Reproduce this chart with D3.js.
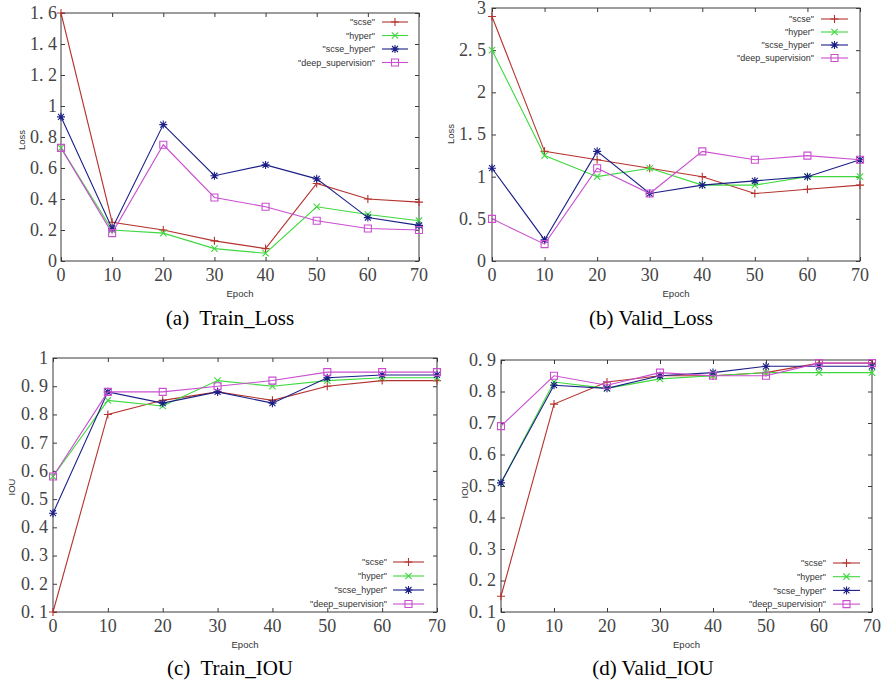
<!DOCTYPE html>
<html>
<head>
<meta charset="utf-8">
<script src="https://cdn.jsdelivr.net/npm/d3@7/dist/d3.min.js"></script>
<style>
  html, body { margin: 0; padding: 0; background: #ffffff; }
  svg { display: block; }
  .ticklab { font-family: 'Liberation Serif', 'Times New Roman', serif; font-size: 18px; fill: #444; white-space: pre; }
  .small { font-family: 'Liberation Sans', Arial, sans-serif; font-size: 9.5px; fill: #333; }
  .leg { font-family: 'Liberation Sans', Arial, sans-serif; font-size: 9px; fill: #333; }
  .cap { font-family: 'Liberation Serif', 'Times New Roman', serif; font-size: 21px; fill: #000; white-space: pre; }
</style>
</head>
<body>
<svg id="chart" width="886" height="687"></svg>
<script>
// ---------------- DATA ----------------
const epochs = [0, 10, 20, 30, 40, 50, 60, 70];
const xTickLabels = ["0", "10", "20", "30", "40", "50", "60", "70"];
const seriesNames = ['"scse"', '"hyper"', '"scse_hyper"', '"deep_supervision"'];

// (a) Train_Loss
const trainLossScse      = [1.60, 0.25, 0.20, 0.13, 0.08, 0.50, 0.40, 0.38];
const trainLossHyper     = [0.73, 0.20, 0.18, 0.08, 0.05, 0.35, 0.30, 0.26];
const trainLossScseHyper = [0.93, 0.21, 0.88, 0.55, 0.62, 0.53, 0.28, 0.23];
const trainLossDeep      = [0.73, 0.18, 0.75, 0.41, 0.35, 0.26, 0.21, 0.20];
const trainLossTicks     = [0, 0.2, 0.4, 0.6, 0.8, 1.0, 1.2, 1.4, 1.6];
const trainLossTickLabels = ["0", "0. 2", "0. 4", "0. 6", "0. 8", "1", "1. 2", "1. 4", "1. 6"];

// (b) Valid_Loss
const validLossScse      = [2.90, 1.30, 1.20, 1.10, 1.00, 0.80, 0.85, 0.90];
const validLossHyper     = [2.50, 1.25, 1.00, 1.10, 0.90, 0.90, 1.00, 1.00];
const validLossScseHyper = [1.10, 0.25, 1.30, 0.80, 0.90, 0.95, 1.00, 1.20];
const validLossDeep      = [0.50, 0.20, 1.10, 0.80, 1.30, 1.20, 1.25, 1.20];
const validLossTicks     = [0, 0.5, 1.0, 1.5, 2.0, 2.5, 3.0];
const validLossTickLabels = ["0", "0. 5", "1", "1. 5", "2", "2. 5", "3"];

// (c) Train_IOU
const trainIouScse      = [0.10, 0.80, 0.85, 0.88, 0.85, 0.90, 0.92, 0.92];
const trainIouHyper     = [0.58, 0.85, 0.83, 0.92, 0.90, 0.92, 0.93, 0.93];
const trainIouScseHyper = [0.45, 0.88, 0.84, 0.88, 0.84, 0.93, 0.94, 0.94];
const trainIouDeep      = [0.58, 0.88, 0.88, 0.90, 0.92, 0.95, 0.95, 0.95];
const trainIouTicks     = [0.1, 0.2, 0.3, 0.4, 0.5, 0.6, 0.7, 0.8, 0.9, 1.0];
const trainIouTickLabels = ["0. 1", "0. 2", "0. 3", "0. 4", "0. 5", "0. 6", "0. 7", "0. 8", "0. 9", "1"];

// (d) Valid_IOU
const validIouScse      = [0.15, 0.76, 0.83, 0.85, 0.85, 0.86, 0.89, 0.89];
const validIouHyper     = [0.51, 0.83, 0.81, 0.84, 0.85, 0.86, 0.86, 0.86];
const validIouScseHyper = [0.51, 0.82, 0.81, 0.85, 0.86, 0.88, 0.88, 0.88];
const validIouDeep      = [0.69, 0.85, 0.82, 0.86, 0.85, 0.85, 0.89, 0.89];
const validIouTicks     = [0.1, 0.2, 0.3, 0.4, 0.5, 0.6, 0.7, 0.8, 0.9];
const validIouTickLabels = ["0. 1", "0. 2", "0. 3", "0. 4", "0. 5", "0. 6", "0. 7", "0. 8", "0. 9"];

const captions = ["(a)  Train_Loss", "(b) Valid_Loss", "(c)  Train_IOU", "(d) Valid_IOU"];
const yTitles = ["Loss", "Loss", "IOU", "IOU"];
const xTitle = "Epoch";

// ---------------- STYLE / LAYOUT ----------------
const colors = ["#b5332e", "#3fd83f", "#1b1f86", "#c94fcf"];
const markers = [
  "M-4,0H4M0,-4V4",                                  // +
  "M-3.2,-3.2L3.2,3.2M-3.2,3.2L3.2,-3.2",            // x
  "M-4,0H4M0,-4V4M-3,-3L3,3M-3,3L3,-3",              // *
  "M-3.5,-3.5H3.5V3.5H-3.5Z"                         // square
];

const panels = [
  { L: 61,  R: 419, T: 13,  B: 261, yDom: [0, 1.6], ticks: trainLossTicks, tickLabels: trainLossTickLabels,
    series: [trainLossScse, trainLossHyper, trainLossScseHyper, trainLossDeep],
    legend: { textRight: 375, lineX1: 382, lineX2: 408, y0: 22, dy: 13.5 },
    yTitle: { x: 22, y: 140 }, xTitleY: 297, tickLabelY: 281, yLabPad: 4,
    caption: { x: 230, y: 325 } },
  { L: 492, R: 860, T: 8,   B: 261, yDom: [0, 3], ticks: validLossTicks, tickLabels: validLossTickLabels,
    series: [validLossScse, validLossHyper, validLossScseHyper, validLossDeep],
    legend: { textRight: 814, lineX1: 821, lineX2: 848, y0: 19, dy: 13 },
    yTitle: { x: 451, y: 134 }, xTitleY: 297, tickLabelY: 281, yLabPad: 6,
    caption: { x: 651, y: 325 } },
  { L: 53,  R: 437, T: 358, B: 612, yDom: [0.1, 1.0], ticks: trainIouTicks, tickLabels: trainIouTickLabels,
    series: [trainIouScse, trainIouHyper, trainIouScseHyper, trainIouDeep],
    legend: { textRight: 387, lineX1: 393, lineX2: 424, y0: 562, dy: 14 },
    yTitle: { x: 12, y: 487 }, xTitleY: 648, tickLabelY: 632, yLabPad: 5,
    caption: { x: 230, y: 675 } },
  { L: 501, R: 872, T: 360, B: 612, yDom: [0.1, 0.9], ticks: validIouTicks, tickLabels: validIouTickLabels,
    series: [validIouScse, validIouHyper, validIouScseHyper, validIouDeep],
    legend: { textRight: 826, lineX1: 833, lineX2: 860, y0: 563, dy: 13.7 },
    yTitle: { x: 465, y: 490 }, xTitleY: 648, tickLabelY: 632, yLabPad: 5,
    caption: { x: 653, y: 675 } }
];

const svg = d3.select("#chart");

panels.forEach((p, pi) => {
  const x = d3.scaleLinear().domain([0, 70]).range([p.L, p.R]);
  const y = d3.scaleLinear().domain(p.yDom).range([p.B, p.T]);
  const g = svg.append("g");

  // frame
  g.append("rect").attr("x", p.L).attr("y", p.T)
    .attr("width", p.R - p.L).attr("height", p.B - p.T)
    .attr("fill", "none").attr("stroke", "#3a3a3a").attr("stroke-width", 1);

  // inward tick marks on all four sides via d3 axes (no labels)
  const tickStyle = sel => { sel.select(".domain").remove(); sel.selectAll("line").attr("stroke", "#3a3a3a"); };
  g.append("g").attr("transform", `translate(0,${p.B})`)
    .call(d3.axisBottom(x).tickValues(epochs).tickFormat("").tickSizeInner(-4).tickSizeOuter(0)).call(tickStyle);
  g.append("g").attr("transform", `translate(0,${p.T})`)
    .call(d3.axisTop(x).tickValues(epochs).tickFormat("").tickSizeInner(-4).tickSizeOuter(0)).call(tickStyle);
  g.append("g").attr("transform", `translate(${p.L},0)`)
    .call(d3.axisLeft(y).tickValues(p.ticks).tickFormat("").tickSizeInner(-4).tickSizeOuter(0)).call(tickStyle);
  g.append("g").attr("transform", `translate(${p.R},0)`)
    .call(d3.axisRight(y).tickValues(p.ticks).tickFormat("").tickSizeInner(-4).tickSizeOuter(0)).call(tickStyle);

  // tick labels
  g.selectAll(null).data(epochs).enter().append("text")
    .attr("class", "ticklab").attr("x", d => x(d)).attr("y", p.tickLabelY)
    .attr("text-anchor", "middle").text((d, i) => xTickLabels[i]);
  g.selectAll(null).data(p.ticks).enter().append("text")
    .attr("class", "ticklab").attr("x", p.L - p.yLabPad).attr("y", d => y(d)).attr("dy", "0.33em")
    .attr("text-anchor", "end").text((d, i) => p.tickLabels[i]);

  // titles
  g.append("text").attr("class", "small").attr("x", (p.L + p.R) / 2).attr("y", p.xTitleY)
    .attr("text-anchor", "middle").text(xTitle);
  g.append("text").attr("class", "small")
    .attr("transform", `translate(${p.yTitle.x},${p.yTitle.y}) rotate(-90)`)
    .attr("text-anchor", "middle").attr("dy", "0.35em").text(yTitles[pi]);

  // series
  const line = d3.line().x((d, i) => x(epochs[i])).y(d => y(d));
  p.series.forEach((vals, si) => {
    g.append("path").datum(vals).attr("d", line)
      .attr("fill", "none").attr("stroke", colors[si]).attr("stroke-width", 1.1);
    g.selectAll(null).data(vals).enter().append("path")
      .attr("transform", (d, i) => `translate(${x(epochs[i])},${y(d)})`)
      .attr("d", markers[si]).attr("fill", "none")
      .attr("stroke", colors[si]).attr("stroke-width", 1.1);
  });

  // legend
  const lg = p.legend;
  seriesNames.forEach((name, si) => {
    const ly = lg.y0 + si * lg.dy;
    g.append("text").attr("class", "leg").attr("x", lg.textRight).attr("y", ly).attr("dy", "0.35em")
      .attr("text-anchor", "end").text(name);
    g.append("line").attr("x1", lg.lineX1).attr("x2", lg.lineX2).attr("y1", ly).attr("y2", ly)
      .attr("stroke", colors[si]).attr("stroke-width", 1.1);
    g.append("path").attr("transform", `translate(${(lg.lineX1 + lg.lineX2) / 2},${ly})`)
      .attr("d", markers[si]).attr("fill", "none").attr("stroke", colors[si]).attr("stroke-width", 1.1);
  });

  // caption
  g.append("text").attr("class", "cap").attr("x", p.caption.x).attr("y", p.caption.y)
    .attr("text-anchor", "middle").text(captions[pi]);
});
</script>
</body>
</html>
